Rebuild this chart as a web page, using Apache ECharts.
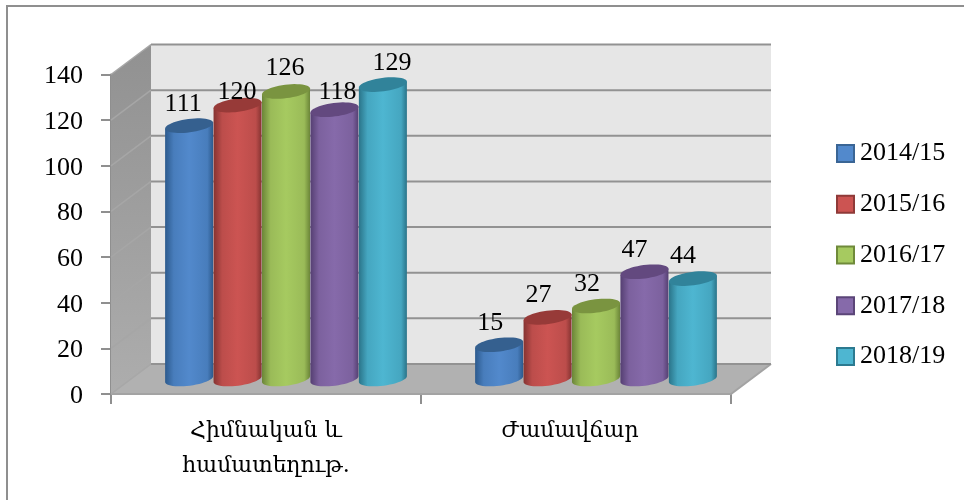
<!DOCTYPE html>
<html><head><meta charset="utf-8">
<style>html,body{margin:0;padding:0;background:#fff}#c{width:964px;height:500px}</style>
<script src="https://cdn.jsdelivr.net/npm/echarts@6/dist/echarts.min.js"></script>
</head><body><div id="c"></div>
<script>
const categories = ['Հիմնական և\nհամատեղութ.', 'Ժամավճար'];
const seriesNames = ['2014/15', '2015/16', '2016/17', '2017/18', '2018/19'];
const values2014 = [111, 15];
const values2015 = [120, 27];
const values2016 = [126, 32];
const values2017 = [118, 47];
const values2018 = [129, 44];
const yTicks = [0, 20, 40, 60, 80, 100, 120, 140];

const allValues = [values2014, values2015, values2016, values2017, values2018];
const palette = [
  {bright:'#5289cc', mid:'#487dbc', dark:'#2c5a8d', top:'#35608f', edge:'#3a6595'},
  {bright:'#cc5452', mid:'#bc4d4b', dark:'#853331', top:'#973a38', edge:'#8f3a38'},
  {bright:'#a6ca60', mid:'#9abb58', dark:'#6b8538', top:'#7a9440', edge:'#6f8a3a'},
  {bright:'#866aaa', mid:'#7c619e', dark:'#553f72', top:'#63497f', edge:'#5b4578'},
  {bright:'#4eb6d1', mid:'#45a6c0', dark:'#2a7489', top:'#31839a', edge:'#2c7a90'}
];
const DX = 40, DY = -30;      // depth of the 3D box
const font = '"Liberation Serif","DejaVu Serif",serif';
const catFont = '"DejaVu Serif","Liberation Serif",serif';
const labelNudge = {
  '0-0':[-6,0], '1-0':[-0.5,9], '2-0':[-1,-1], '3-0':[3,4], '4-0':[9,1],
  '0-1':[-9,0], '1-1':[-9,0], '2-1':[-9,0], '3-1':[-10,0], '4-1':[-10,0]
};

function arcPts(cx, cy, rx, ry, tilt, from, to, n) {
  const pts = [];
  for (let i = 0; i <= n; i++) {
    const t = from + (to - from) * i / n;
    const ex = rx * Math.cos(t), ey = ry * Math.sin(t);
    pts.push([cx + ex * Math.cos(tilt) + ey * Math.sin(tilt),
              cy - ex * Math.sin(tilt) + ey * Math.cos(tilt)]);
  }
  return pts;
}

function frameItem(params, api) {
  const cs = params.coordSys;
  const l = cs.x, r = cs.x + cs.width;
  const y0 = api.coord([0, 0])[1];
  const yMax = api.coord([0, yTicks[yTicks.length - 1]])[1];
  const children = [
    {type:'polygon', shape:{points:[[l,y0],[l+DX,y0+DY],[l+DX,yMax+DY],[l,yMax]]},
     style:{fill:new echarts.graphic.LinearGradient(0,0,0,1,[{offset:0,color:'#919191'},{offset:1,color:'#adadad'}])}},
    {type:'rect', shape:{x:l+DX,y:yMax+DY,width:r-l,height:y0-yMax}, style:{fill:'#e6e6e6'}},
    {type:'polygon', shape:{points:[[l,y0],[r,y0],[r+DX,y0+DY],[l+DX,y0+DY]]}, style:{fill:'#b1b1b1'}}
  ];
  yTicks.forEach(v => {
    const y = api.coord([0, v])[1];
    if (v === 0) {
      children.push({type:'polyline', shape:{points:[[l,y],[r,y],[r+DX,y+DY]]}, style:{stroke:'#a3a3a3', lineWidth:2, fill:null}});
    }
    children.push({type:'line', shape:{x1:l,y1:y,x2:l+DX,y2:y+DY}, style:{stroke:'#a6a6a6', lineWidth:1.5}});
    children.push({type:'line', shape:{x1:l+DX,y1:y+DY,x2:r+DX,y2:y+DY}, style:{stroke:'#929292', lineWidth:2}});
  });
  return {type:'group', children};
}

function cylinder(idx) {
  return function (params, api) {
    const cat = api.value(0), val = api.value(1);
    const catW = api.size([1, 0])[0];
    const w = catW / 6.4;
    const rx = w / 2, ry = 6.7, tilt = 0.13;
    const off = (idx - 2) * w;
    const base = api.coord([cat, 0]);
    const top = api.coord([cat, val]);
    const cx = base[0] + off + DX / 2;
    const yB = base[1] + DY / 2, yT = top[1] + DY / 2;
    const p = palette[idx];
    const grad = new echarts.graphic.LinearGradient(0,0,1,0,[
      {offset:0,color:p.dark},{offset:0.18,color:p.mid},{offset:0.5,color:p.bright},
      {offset:0.88,color:p.mid},{offset:1,color:p.dark}]);
    const lowArc = arcPts(cx, yB, rx, ry, tilt, 0, Math.PI, 24);
    const body = [[cx + rx * Math.cos(tilt), yT - rx * Math.sin(tilt)]].concat(lowArc,
      [[cx - rx * Math.cos(tilt), yT + rx * Math.sin(tilt)]]);
    const nudge = labelNudge[idx + '-' + cat] || [0, 0];
    return {type:'group', children:[
      {type:'polygon', shape:{points:body}, style:{fill:grad}},
      {type:'polygon', shape:{points:arcPts(cx, yT, rx, ry, tilt, 0, 2*Math.PI, 48)}, style:{fill:p.top}},
      {type:'text', z2:20, style:{text:String(val), x:cx + nudge[0], y:yT - 22 + nudge[1],
        align:'center', verticalAlign:'middle', font:'26px ' + font, fill:'#000'}}
    ]};
  };
}

const series = [{
  type:'custom', name:'frame', silent:true, z:1,
  coordinateSystem:'cartesian2d', renderItem:frameItem, data:[[0,0]],
  encode:{x:0,y:1}, animation:false
}];
seriesNames.forEach((name, i) => series.push({
  type:'custom', name, z:2+i, coordinateSystem:'cartesian2d',
  renderItem:cylinder(i), encode:{x:0,y:1},
  itemStyle:{color:palette[i].mid},
  data: allValues[i].map((v, c) => [c, v]), animation:false
}));

const chart = echarts.init(document.getElementById('c'), null, {renderer:'canvas'});
chart.setOption({
  animation:false,
  backgroundColor:'#fff',
  grid:{left:111, right:233, top:74.5, bottom:106, containLabel:false},
  xAxis:{type:'category', data:categories,
    axisLine:{show:true,lineStyle:{color:'#8f8f8f',width:2}},
    axisTick:{show:true,length:10,lineStyle:{color:'#8f8f8f',width:2}},
    axisLabel:{color:'#000',fontFamily:catFont,fontSize:22,lineHeight:35,margin:20,interval:0,
      formatter:v => v === categories[1] ? '{r|' + v + '}' : v,
      rich:{r:{fontFamily:catFont,fontSize:22,lineHeight:35,color:'#000',padding:[0,12,0,0]}}},
    splitLine:{show:false}},
  yAxis:{type:'value', min:0, max:140, interval:20,
    axisLine:{show:true,lineStyle:{color:'#8f8f8f',width:2}},
    axisTick:{show:true,length:10,lineStyle:{color:'#8f8f8f',width:2}},
    axisLabel:{color:'#000',margin:28,
      formatter:v => '{n|' + v + '}',
      rich:{n:{fontFamily:font,fontSize:26,color:'#000',padding:[4,0,0,0]}}},
    splitLine:{show:false}},
  legend:{orient:'vertical', left:831, top:135.5, itemWidth:17, itemHeight:17, itemGap:24.75,
    icon:'rect', selectedMode:false,
    textStyle:{color:'#000',fontFamily:font,fontSize:26,padding:[0,0,0,1],lineHeight:25},
    data:seriesNames.map((n,i)=>({name:n,itemStyle:{color:palette[i].bright,borderColor:palette[i].edge,borderWidth:2}}))},
  graphic:[{type:'polyline',silent:true,z:-1,shape:{points:[[7,500],[7,6],[964,6]]},style:{fill:'none',stroke:'#8f8f8f',lineWidth:2}}],
  series
});
</script></body></html>
